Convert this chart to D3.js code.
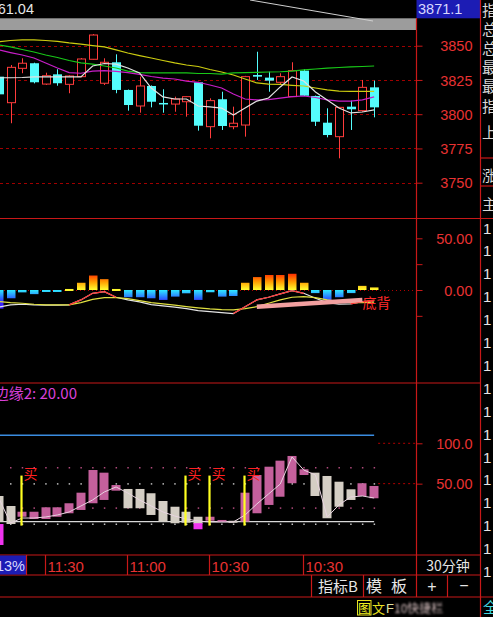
<!DOCTYPE html>
<html><head><meta charset="utf-8">
<script src="https://cdn.jsdelivr.net/npm/d3@7"></script>
<style>html,body{margin:0;padding:0;background:#000;overflow:hidden}</style>
</head><body>
<script>
// ---------- DATA ----------
const openP  = [3827.4,3808.4,3833.5,3837.2,3822.0,3829.1,3821.8,3827.4,3840.1,3822.6,3837.9,3817.7,3806.0,3820.6,3808.2,3807.4,3809.1,3823.3,3790.9,3810.9,3790.9,3792.1,3828.6,3826.7,3823.3,3812.8,3831.8,3813.3,3793.8,3783.6,3805.5,3802.6,3819.6];
const highP  = [3828.0,3835.9,3840.8,3837.6,3830.3,3832.8,3828.4,3841.0,3858.5,3840.8,3843.7,3818.0,3827.4,3821.0,3818.2,3812.8,3813.2,3823.6,3811.6,3816.4,3805.5,3828.0,3845.6,3831.0,3829.9,3837.9,3832.8,3813.6,3804.3,3805.3,3809.9,3825.0,3824.5];
const lowP   = [3813.0,3793.4,3829.9,3822.5,3821.3,3820.8,3815.3,3827.0,3839.8,3821.3,3815.3,3802.6,3801.1,3805.0,3801.1,3801.8,3798.2,3788.0,3782.4,3788.5,3789.0,3783.6,3825.0,3816.4,3821.3,3812.5,3813.3,3791.4,3783.1,3767.8,3788.5,3801.8,3797.7];
const closeP = [3814.5,3834.2,3837.2,3823.3,3828.1,3822.6,3827.9,3840.3,3857.8,3837.9,3817.7,3806.7,3820.6,3809.1,3807.6,3811.1,3812.8,3791.6,3809.9,3791.4,3793.4,3827.4,3827.4,3824.5,3827.4,3831.8,3813.5,3794.5,3784.8,3805.0,3803.6,3819.6,3805.0];
const ma5  = [3826.6,3826.6,3826.8,3827.2,3827.2,3827.2,3827.2,3827.2,3835.2,3837.0,3836.6,3833.7,3830.1,3819.1,3812.6,3811.1,3811.1,3806.0,3805.3,3804.5,3799.4,3804.5,3809.6,3811.8,3819.9,3827.2,3824.2,3816.2,3810.4,3804.5,3800.9,3801.6,3803.1];
const ma10 = [3846.9,3845.0,3843.2,3841.0,3837.4,3833.7,3830.4,3829.9,3831.5,3831.8,3831.2,3830.4,3829.1,3827.5,3826.4,3825.7,3824.2,3823.3,3821.3,3819.1,3814.7,3811.1,3810.4,3810.7,3811.8,3812.8,3813.3,3812.2,3810.4,3809.6,3809.6,3810.4,3812.6];
const ma20 = [3850.5,3849.1,3847.2,3845.4,3843.2,3841.4,3839.2,3837.4,3836.6,3835.2,3833.7,3831.5,3830.4,3830.1,3830.1,3830.1,3830.1,3829.7,3829.7,3829.3,3830.1,3830.4,3830.6,3830.8,3831.0,3831.5,3832.3,3833.0,3833.7,3834.1,3834.5,3834.8,3835.2];
const ma30 = [3852.9,3853.8,3854.2,3854.2,3853.8,3853.1,3852.0,3851.2,3850.1,3849.1,3846.9,3844.7,3842.8,3841.0,3839.2,3837.4,3835.9,3834.8,3832.6,3830.8,3828.6,3825.7,3822.8,3822.0,3821.7,3821.1,3820.6,3819.1,3817.7,3816.9,3816.6,3816.6,3816.6];
const priceTicks = [3850,3825,3800,3775,3750];

const macdBar = [-18,-8,-2.3,-4,-1.5,-1.5,1,7,14,10.5,1,-7,-7,-8,-9.6,-6.4,-3.2,-9.6,-2.2,-6.4,-5.8,7,12.5,14.5,14.5,15.7,7,-3,-9.6,-7,-3,4,2.5];
const dif = [-16.6,-14.4,-13.8,-14.4,-14.7,-14.7,-14.4,-9.6,-3.2,-1.6,-7.0,-9.6,-11.5,-14.1,-15.4,-16.6,-18.0,-19.9,-20.9,-21.8,-22.8,-16.1,-9.6,-7.0,-3.8,-0.7,-3.2,-8.0,-12.2,-13.8,-13.5,-11.2,-10.3];
const dea = [-11.2,-12.2,-12.8,-13.8,-14.4,-14.4,-14.4,-12.2,-9.0,-7.4,-7.4,-8.3,-10.3,-12.2,-13.5,-14.7,-16.1,-17.3,-18.3,-18.9,-19.2,-18.0,-16.1,-12.8,-9.6,-7.0,-6.4,-7.4,-9.6,-11.2,-12.2,-12.2,-11.8];
const divergence = [[22,-16.2],[31,-9.7]];
const macdTicks = [50,25,0,-25];
const macdLabels = {"50":"50.00","0":"0.00"};

const kHi = [34.7,22.3,15.2,15.2,20.7,20.7,25.7,38.8,66.9,63.6,48.3,43.4,43.4,38.1,28.5,21.4,15.2,9.0,9.0,5.0,4.0,38.8,60.7,71.0,78.5,84.3,67.8,63.6,59.5,52.4,43.0,50.5,47.1];
const kLo = [2.9,0,9.0,6.2,6.2,9.0,13.3,17.4,25.7,29.8,41.3,19.5,19.5,11.2,2.9,0.9,1.6,0,4.1,2.5,2.5,2.9,13.3,23.6,33.8,50.5,60.7,34.7,7.1,21.4,29.8,34.7,31.9];
const kUp = [0,0,1,1,1,1,1,1,1,1,1,0,0,0,0,0,0,0,1,1,0,1,1,1,1,1,1,0,0,0,0,1,1];
const kLine = [32.2,1.2,7.4,7.4,8.7,11.2,14.9,22.3,29.8,39.7,45.9,38.4,29.8,22.3,14.9,9.9,6.2,3.7,2.5,2.5,2.5,11.2,24.8,37.2,49.6,83.1,66.9,60.7,8.7,23.6,33.5,34.7,32.2];
const buyIdx = [2,16,18,21];
const magentaBars = [[0,-26,0],[17,-6.5,1]];
const edge1 = 3, edge2 = 110;
const dotLevels = [[70,"#b04a7c"],[50,"#bdbdbd"],[20,"#b04a7c"],[0,"#bdbdbd"]];
const kdjTicks = [100,50];
const kdjLabels = {"100":"100.0","50":"50.00"};

const timeLabels = [[4,"11:30"],[11,"11:00"],[18,"10:30"],[26,"10:30"]];
const sideChars = [["指",10],["总",29],["总",48],["最",67],["最",86],["指",106],["上",132],["涨",175],["主",204]];

// ---------- SETUP ----------
const W=493,H=617, RED="#c81818", LBL="#e83232";
const NUM="'Liberation Sans',Arial,sans-serif", CJK="'Noto Sans CJK SC','Noto Sans',sans-serif";
const svg=d3.select("body").append("svg").attr("width",W).attr("height",H).style("display","block").style("background","#000");
const defs=svg.append("defs");
function clip(id,x,y,w,h){defs.append("clipPath").attr("id",id).append("rect").attr("x",x).attr("y",y).attr("width",w).attr("height",h);}
clip("cp",0,30,416,188); clip("cm",0,219,416,163); clip("ck",0,384,416,171);

const n = openP.length;
const x  = d3.scaleLinear().domain([0,32]).range([-1.23,374.13]);
const yP = d3.scaleLinear().domain([3750,3850]).range([182.7,45.7]);
const yM = d3.scaleLinear().domain([0,50]).range([290,238.3]);
const yK = d3.scaleLinear().domain([0,100]).range([524,443.3]);

function grad(id,y1,y2,stops){
  const g=defs.append("linearGradient").attr("id",id).attr("gradientUnits","userSpaceOnUse")
    .attr("x1",0).attr("x2",0).attr("y1",y1).attr("y2",y2);
  g.selectAll("stop").data(stops).join("stop").attr("offset",d=>d[0]).attr("stop-color",d=>d[1]);
}
grad("gpos",yM(0),yM(16),[[0,"#ffff30"],[0.5,"#ff9c00"],[1,"#ff2800"]]);
grad("gneg",yM(0),yM(-12),[[0,"#30eaff"],[0.6,"#2a74ff"],[1,"#3a22ff"]]);
defs.append("filter").attr("id","blur").append("feGaussianBlur").attr("stdDeviation",1.3);

// ---------- TOP ----------
svg.append("text").attr("x",34).attr("y",13.5).attr("text-anchor","end").attr("font-family",NUM).attr("font-size",14.5).attr("fill","#e6e6e6").text("61.04");
svg.append("rect").attr("x",0).attr("y",18.3).attr("width",416).attr("height",11.7).attr("fill","#9c9c9c");
svg.append("line").attr("x1",250).attr("y1",0).attr("x2",373).attr("y2",21).attr("stroke","#cfcfcf").attr("stroke-width",1);
svg.append("rect").attr("x",416.5).attr("y",0).attr("width",63.5).attr("height",18.3).attr("fill","#1c1cb4");
svg.append("text").attr("x",418).attr("y",14).attr("font-family",NUM).attr("font-size",14.5).attr("fill","#d8d8ff").text("3871.1");

// ---------- PRICE PANEL ----------
const gP=svg.append("g").attr("clip-path","url(#cp)");
gP.selectAll("line.grid").data(priceTicks).join("line").attr("class","grid")
  .attr("x1",0).attr("x2",416).attr("y1",d=>Math.round(yP(d))+0.5).attr("y2",d=>Math.round(yP(d))+0.5)
  .attr("stroke","#a00000").attr("stroke-dasharray","3,3");
const cand=gP.selectAll("g.c").data(d3.range(n)).join("g").attr("class","c");
cand.each(function(i){
  const g=d3.select(this), up=closeP[i]>=openP[i], col=up?"#ff3c3c":"#54fcfc";
  const cx=Math.round(x(i))+0.5, top=yP(Math.max(openP[i],closeP[i])), bot=yP(Math.min(openP[i],closeP[i]));
  if(up){
    g.append("line").attr("x1",cx).attr("x2",cx).attr("y1",yP(highP[i])).attr("y2",top).attr("stroke",col);
    g.append("line").attr("x1",cx).attr("x2",cx).attr("y1",bot).attr("y2",yP(lowP[i])).attr("stroke",col);
    g.append("rect").attr("x",cx-4).attr("y",top).attr("width",8).attr("height",Math.max(1,bot-top)).attr("fill","#000").attr("stroke",col);
  } else {
    g.append("line").attr("x1",cx).attr("x2",cx).attr("y1",yP(highP[i])).attr("y2",yP(lowP[i])).attr("stroke",col);
    g.append("rect").attr("x",cx-4.5).attr("y",top).attr("width",9).attr("height",Math.max(1.5,bot-top)).attr("fill",col);
  }
});
const lineP=d3.line().x((d,i)=>x(i)).y(d=>yP(d));
[[ma30,"#cccc10"],[ma20,"#18c818"],[ma10,"#c81ec8"],[ma5,"#e2e2e2"]].forEach(([s,c])=>{
  gP.append("path").attr("d",lineP(s)).attr("fill","none").attr("stroke",c).attr("stroke-width",1.2);
});

// ---------- MACD PANEL ----------
const gM=svg.append("g").attr("clip-path","url(#cm)");
gM.append("line").attr("x1",0).attr("x2",416).attr("y1",yM(0)+0.5).attr("y2",yM(0)+0.5).attr("stroke","#b00000").attr("stroke-dasharray","1,3");
gM.selectAll("rect.bar").data(macdBar).join("rect").attr("class","bar")
  .attr("x",(d,i)=>Math.round(x(i))-4).attr("width",8.5)
  .attr("y",d=>d>=0?yM(d):yM(0)).attr("height",d=>Math.max(2,Math.abs(yM(d)-yM(0))))
  .attr("fill",d=>d>=0?"url(#gpos)":"url(#gneg)");
const lineM=d3.line().x((d,i)=>x(i)).y(d=>yM(d));
gM.append("path").attr("d",lineM(dif)).attr("fill","none").attr("stroke","#e4e4e4").attr("stroke-width",1.2);
gM.append("path").attr("d",lineM(dea)).attr("fill","none").attr("stroke","#e0e040").attr("stroke-width",1.2);
d3.range(n-1).filter(i=>dif[i+1]>dea[i+1]).forEach(i=>{
  gM.append("line").attr("x1",x(i)).attr("y1",yM(dif[i])).attr("x2",x(i+1)).attr("y2",yM(dif[i+1])).attr("stroke","#ff3030").attr("stroke-width",1.2);
});
gM.append("path").attr("d",d3.line().x(d=>x(d[0])).y(d=>yM(d[1]))(divergence)).attr("stroke","#f2a0a0").attr("stroke-width",4.5).attr("fill","none");
gM.append("text").attr("x",x(divergence[1][0])).attr("y",307.5).attr("font-family",CJK).attr("font-size",14).attr("fill","#ff2a2a").text("底背");

// ---------- KDJ PANEL ----------
const gK=svg.append("g").attr("clip-path","url(#ck)");
gK.append("text").attr("x",77).attr("y",399).attr("text-anchor","end").attr("font-family",CJK).attr("font-size",15).attr("fill","#d840d8").text("边缘2: 20.00");
gK.append("line").attr("x1",0).attr("x2",x(32)).attr("y1",yK(edge2)).attr("y2",yK(edge2)).attr("stroke","#3a8ce0").attr("stroke-width",1.5);
gK.append("line").attr("x1",0).attr("x2",x(32)).attr("y1",yK(edge1)).attr("y2",yK(edge1)).attr("stroke","#d8d8d8").attr("stroke-width",1.2);
kdjTicks.forEach(t=>gK.append("line").attr("x1",x(32)+4).attr("x2",416).attr("y1",yK(t)).attr("y2",yK(t)).attr("stroke","#b00000").attr("stroke-dasharray","2,3"));
dotLevels.forEach(([lv,c])=>{
  gK.selectAll(null).data(d3.range(1,n)).join("rect").attr("x",i=>x(i)-0.5).attr("y",yK(lv)-0.5).attr("width",1.5).attr("height",1.5).attr("fill",c);
});
gK.selectAll("rect.kb").data(d3.range(n)).join("rect").attr("class","kb")
  .attr("x",i=>Math.round(x(i))-4.5).attr("width",9)
  .attr("y",i=>yK(kHi[i])).attr("height",i=>Math.max(2,yK(kLo[i])-yK(kHi[i])))
  .attr("fill",i=>kUp[i]?"#c4609c":"#d4cec4");
magentaBars.forEach(([i,lo,hi])=>gK.append("rect").attr("x",Math.round(x(i))-4.5).attr("width",9).attr("y",yK(hi)).attr("height",yK(lo)-yK(hi)).attr("fill","#f034f0"));
gK.append("path").attr("d",d3.line().x((d,i)=>x(i)).y(d=>yK(d))(kLine)).attr("fill","none").attr("stroke","#e8d4e0").attr("stroke-width",1);
buyIdx.forEach(i=>{
  const bx=Math.round(x(i))-0.5;
  gK.append("line").attr("x1",bx).attr("x2",bx).attr("y1",yK(60)).attr("y2",yK(-2)).attr("stroke","#ffff20").attr("stroke-width",2.2);
  gK.append("text").attr("x",bx+2).attr("y",479).attr("font-family",CJK).attr("font-size",14).attr("fill","#ff2020").text("买");
});

// ---------- AXES ----------
function styleAxis(g,xr){
  g.select(".domain").remove();
  g.selectAll(".tick line").attr("stroke",RED);
  g.selectAll(".tick text").attr("x",xr).attr("text-anchor","end").attr("fill",LBL)
    .attr("font-family",NUM).attr("font-size",14.5).attr("dy","0.35em");
}
const aP=svg.append("g").attr("transform","translate(416.5,0)")
  .call(d3.axisRight(yP).tickValues(priceTicks).tickSize(6).tickFormat(d3.format("d")));
styleAxis(aP,56);
const aM=svg.append("g").attr("transform","translate(416.5,0)")
  .call(d3.axisRight(yM).tickValues(macdTicks).tickSize(6).tickFormat(d=>macdLabels[d]||""));
styleAxis(aM,56);
const aK=svg.append("g").attr("transform","translate(416.5,0)")
  .call(d3.axisRight(yK).tickValues(kdjTicks).tickSize(6).tickFormat(d=>kdjLabels[d]||""));
styleAxis(aK,56);

// ---------- FRAME LINES ----------
const L=(x1,y1,x2,y2)=>svg.append("line").attr("x1",x1).attr("y1",y1).attr("x2",x2).attr("y2",y2).attr("stroke",RED).attr("stroke-width",1.2);
L(416.5,18,416.5,597); L(480.5,0,480.5,617);
L(0,218.5,493,218.5); L(0,383,480,383); L(0,555,480,555); L(0,575,480,575); L(0,597,493,597);
L(480,158,493,158); L(480,186,493,186);

// ---------- TIME ROW ----------
svg.append("rect").attr("x",0).attr("y",555.5).attr("width",26).attr("height",19).attr("fill","#1c1cb4");
svg.append("text").attr("x",25).attr("y",571).attr("text-anchor","end").attr("font-family",NUM).attr("font-size",14.5).attr("fill","#d8d8ff").text("13%");
L(26.5,555,26.5,575);
timeLabels.forEach(([i,t])=>{
  const lx=Math.round(x(i))-0.5;
  L(lx,555,lx,575);
  svg.append("text").attr("x",lx+2).attr("y",571.5).attr("font-family",NUM).attr("font-size",15).attr("fill",LBL).text(t);
});
svg.append("text").attr("x",448).attr("y",571).attr("text-anchor","middle").attr("font-family",CJK).attr("font-size",14).attr("fill","#e6e6e6").text("30分钟");

// ---------- BUTTON ROW ----------
[311.5,363.5,447.5].forEach(v=>L(v,575,v,597));
svg.append("text").attr("x",318).attr("y",592).attr("font-family",CJK).attr("font-size",15).attr("fill","#e6e6e6").text("指标B");
svg.append("text").attr("x",366).attr("y",592).attr("font-family",CJK).attr("font-size",16).attr("fill","#e6e6e6").text("模");
svg.append("text").attr("x",391).attr("y",592).attr("font-family",CJK).attr("font-size",16).attr("fill","#e6e6e6").text("板");
svg.append("text").attr("x",432).attr("y",592).attr("text-anchor","middle").attr("font-family",NUM).attr("font-size",16).attr("fill","#e6e6e6").text("+");
svg.append("text").attr("x",464).attr("y",591).attr("text-anchor","middle").attr("font-family",NUM).attr("font-size",16).attr("fill","#e6e6e6").text("−");

// ---------- BOTTOM ROW ----------
svg.append("rect").attr("x",357.5).attr("y",600.5).attr("width",13.5).attr("height",14.5).attr("fill","none").attr("stroke","#e8e020");
svg.append("text").attr("x",358).attr("y",613).attr("font-family",CJK).attr("font-size",13).attr("fill","#f0f020").text("图");
svg.append("text").attr("x",372).attr("y",613).attr("font-family",CJK).attr("font-size",13).attr("fill","#e8e020").text("文");
svg.append("text").attr("x",386).attr("y",613).attr("font-family",NUM).attr("font-size",13).attr("fill","#e0e0a0").text("F");
svg.append("text").attr("x",394).attr("y",613).attr("font-family",CJK).attr("font-size",12).attr("fill","#d8c0c0").attr("filter","url(#blur)").text("10快捷栏");
svg.append("text").attr("x",483).attr("y",613).attr("font-family",CJK).attr("font-size",15).attr("fill","#40d8e0").text("全");

// ---------- RIGHT COLUMN ----------
sideChars.forEach(([c,yy])=>svg.append("text").attr("x",482).attr("y",yy+5.5).attr("font-family",CJK).attr("font-size",15).attr("fill","#d8d8d8").text(c));
d3.range(16).forEach(k=>svg.append("text").attr("x",483).attr("y",233.5+k*22.9).attr("font-family",NUM).attr("font-size",15).attr("fill","#e6e6e6").text("1"));
</script>
</body></html>
